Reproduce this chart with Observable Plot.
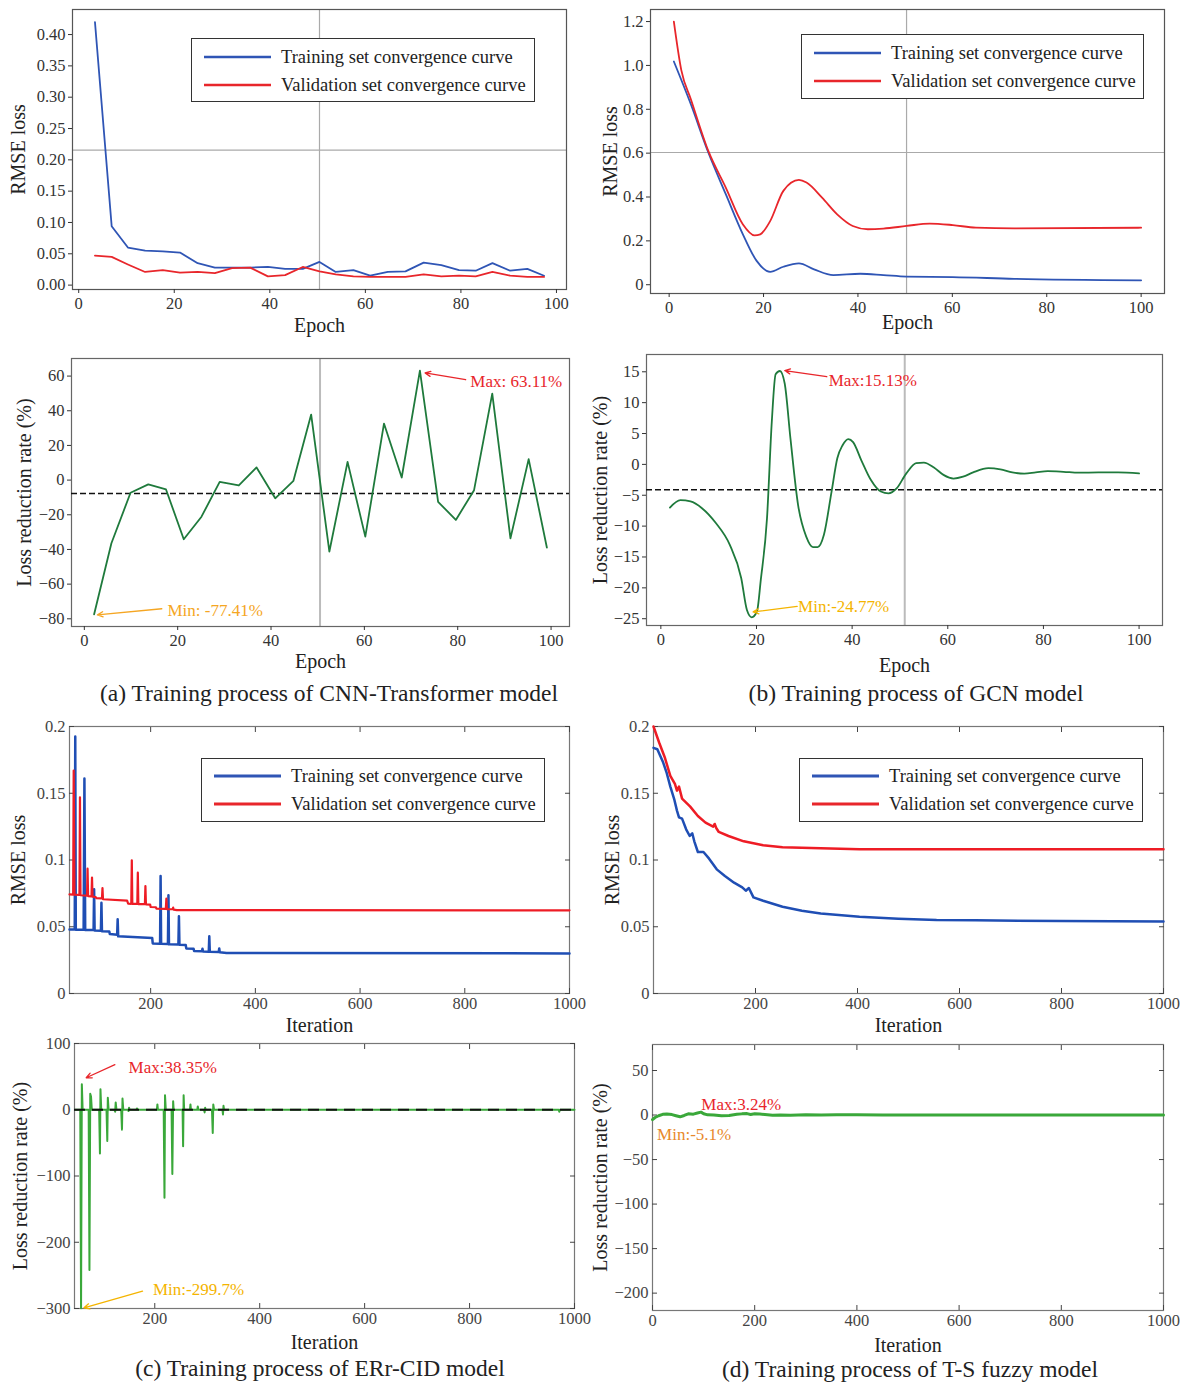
<!DOCTYPE html>
<html>
<head>
<meta charset="utf-8">
<script src="https://cdn.jsdelivr.net/npm/d3@7"></script>
<script src="https://cdn.jsdelivr.net/npm/@observablehq/plot@0.6"></script>
<style>
  body { margin: 0; background: #fff; }
  #fig { position: relative; width: 1194px; height: 1391px; overflow: hidden; background: #fff;
         font-family: "Liberation Serif", "Times New Roman", serif; color: #222; }
  .legend { position: absolute; border: 1.3px solid #333; background: #fff; box-sizing: border-box; }
  .legend .row { position: absolute; left: 0; height: 22px; display: flex; align-items: center; font-size: 18.5px; white-space: nowrap; }
  .legend .row svg { display: block; }
  .caption { position: absolute; font-size: 23.5px; white-space: nowrap; transform: translateX(-50%); line-height: 26px; }
</style>
</head>
<body>
<div id="fig"></div>
<script>
const SERIF = '"Liberation Serif", "Times New Roman", serif';
const BLUE = "#2f55b5", RED = "#e8262b", DARK_GREEN = "#1f7a3c", GREEN = "#3aa83a";
const AMBER = "#f5a623", GOLD = "#f4b400", ORANGE = "#e8892b";

// ---------- (a) CNN-Transformer ----------
const cnnEpoch = [3.4, 6.9, 10.3, 13.9, 17.6, 21.2, 24.9, 28.5, 32.1, 35.9, 39.6, 43.2, 46.9, 50.4,
  53.8, 57.5, 61.0, 64.7, 68.4, 72.2, 75.9, 79.6, 83.1, 86.6, 90.3, 93.9, 97.4];
const cnnTrain = [0.420, 0.094, 0.060, 0.055, 0.054, 0.052, 0.035, 0.028, 0.028, 0.028, 0.029, 0.026, 0.026, 0.037,
  0.021, 0.024, 0.015, 0.021, 0.022, 0.036, 0.032, 0.024, 0.023, 0.035, 0.023, 0.026, 0.015];
const cnnVal = [0.047, 0.045, 0.033, 0.021, 0.024, 0.020, 0.021, 0.019, 0.027, 0.028, 0.014, 0.016, 0.029, 0.022,
  0.017, 0.014, 0.013, 0.013, 0.013, 0.017, 0.014, 0.015, 0.014, 0.021, 0.015, 0.013, 0.013];
const cnnRateEpoch = [2.1, 5.8, 9.9, 13.7, 17.5, 21.3, 25.1, 29.0, 33.1, 36.9, 40.9, 44.8, 48.6, 52.5,
  56.4, 60.2, 64.2, 68.0, 71.9, 75.8, 79.6, 83.5, 87.4, 91.3, 95.2, 99.1];
const cnnRate = [-77.41, -36.4, -7.3, -2.5, -5.4, -34.1, -21.1, -1.0, -3.1, 7.3, -10.5, -0.4, 37.8, -41.2,
  10.5, -32.6, 32.6, 1.5, 63.11, -12.5, -23.0, -5.8, 49.9, -33.6, 12.1, -38.9];
const cnnRateRef = -7.7;

// ---------- (b) GCN ----------
const gcnTrainEpoch = [1, 4.6, 8.3, 12.0, 15.6, 18.5, 21.4, 24.2, 27.5, 30.7, 34.8, 40.5, 45.4, 50.3, 60.1, 73.1, 100];
const gcnTrain = [1.018, 0.823, 0.603, 0.413, 0.231, 0.110, 0.059, 0.082, 0.097, 0.070, 0.044, 0.050, 0.044, 0.037, 0.035, 0.027, 0.020];
const gcnValEpoch = [1, 2.6, 4.6, 8.3, 12.0, 15.6, 18.1, 19.3, 21.4, 24.2, 27.5, 29.1, 32.4, 35.6, 38.9, 42.1,
  45.4, 50.3, 55.2, 60.1, 65.0, 73.1, 100];
const gcnVal = [1.2, 0.976, 0.846, 0.61, 0.443, 0.276, 0.225, 0.23, 0.29, 0.428, 0.478, 0.466, 0.397, 0.321, 0.268, 0.253,
  0.256, 0.268, 0.279, 0.272, 0.26, 0.257, 0.26];
const gcnRateEpoch = [1.9, 4.1, 6.2, 8.6, 11.5, 14.4, 16.8, 18.0, 19.0, 20.1, 20.9, 22.2, 23.2, 24.0, 24.9, 25.9,
  27.1, 28.7, 30.4, 31.8, 32.8, 34.1, 35.7, 36.9, 38.0, 39.2, 40.2, 41.9, 43.9, 46.0, 47.6, 49.3, 51.3, 53.4,
  55.0, 57.1, 59.1, 61.2, 63.2, 65.3, 68.5, 71.0, 73.5, 76.0, 78.4, 80.9, 84.2, 87.4, 91.5, 95.6, 100];
const gcnRate = [-7.0, -5.8, -6.0, -7.1, -9.5, -13.0, -18.4, -23.6, -24.77, -23.8, -18.7, -8.7, 6.9, 14.6, 15.13, 13.1,
  4.2, -6.6, -11.7, -13.4, -13.4, -11.4, -4.4, 1.0, 3.1, 4.1, 3.6, 0.7, -2.5, -4.4, -4.7, -3.9, -1.5, 0.2,
  0.3, -0.5, -1.7, -2.3, -2.0, -1.3, -0.6, -0.8, -1.3, -1.5, -1.3, -1.1, -1.2, -1.35, -1.3, -1.3, -1.45];
const gcnRateRef = -4.1;

// ---------- (c) ERr-CID ----------
const errTrainIter = [45, 55, 56, 57, 72, 73.5, 75, 91, 92, 93, 105, 106, 107, 121, 122, 136, 137, 138, 203, 204,
  218, 219, 220, 233, 234, 235, 253, 254, 255, 267, 268, 282, 283, 298, 299, 300, 311, 312, 313, 330, 331, 332, 345, 1000];
const errTrain = [0.0480, 0.0480, 0.1925, 0.0478, 0.0477, 0.161, 0.0476, 0.0475, 0.078, 0.0472, 0.0470, 0.068, 0.0467,
  0.0465, 0.0445, 0.0440, 0.0556, 0.0428, 0.0415, 0.0375, 0.0372, 0.088, 0.0372, 0.0371, 0.0736, 0.0368, 0.0367, 0.0579,
  0.0365, 0.0363, 0.0338, 0.0335, 0.0318, 0.0316, 0.0335, 0.0314, 0.0313, 0.0429, 0.0312, 0.0311, 0.0337, 0.0309, 0.0304, 0.0300];
const errValIter = [45, 52, 53, 54.5, 64, 65, 66, 78.5, 79.5, 80.5, 87, 88, 89, 95, 96, 107, 108, 109, 155, 157,
  163, 164, 165, 174.5, 175.5, 176.5, 189, 190, 191, 199, 200, 210, 211, 229, 230, 231, 242, 243, 244, 250, 1000];
const errVal = [0.0742, 0.0740, 0.167, 0.0740, 0.0738, 0.147, 0.0736, 0.0733, 0.0935, 0.0730, 0.0728, 0.0868, 0.0725,
  0.0722, 0.0715, 0.0712, 0.079, 0.0706, 0.0695, 0.0673, 0.0672, 0.0998, 0.0672, 0.0671, 0.0905, 0.0670, 0.0669, 0.0805,
  0.0668, 0.0666, 0.0648, 0.0646, 0.0636, 0.0634, 0.071, 0.0632, 0.0631, 0.0643, 0.0628, 0.0624, 0.0623];
const errRateIter = [48, 58, 59.5, 61, 62.5, 64, 74, 75.5, 77, 78.5, 80, 94, 95.5, 96.5, 98, 108, 109.5, 110.5, 112,
  123, 124.5, 125.5, 127, 136, 137.5, 138.5, 140, 149, 150, 151, 152, 165, 166, 167, 204, 205, 206, 217, 218.5, 219.5,
  221, 232, 233.5, 235, 236, 253, 254, 255, 256, 267, 268, 269, 281, 282, 283, 294, 295, 296, 297, 309, 310.5, 311.5,
  313, 329, 330, 331, 332, 970, 971, 972, 1000];
const errRate = [0, 0, -299.7, 38.35, 0, 0, 0, -242, 24, 20, 0, 0, -66, 31, 0, 0, -47, 18, 0,
  0, -3, 11, 0, 0, -30, 17, 0, 0, -2, 3, 0, 0, 2, 0, 0, 8, 0, 0, -133, 22,
  0, 0, -97, 13, 0, 0, -55, 22, 0, 0, 8, 0, 0, 5, 0, 0, -4, 3, 0, 0, -35, 8,
  0, 0, -7, 6, 0, 0, -3, 0, 0];

// ---------- (d) T-S fuzzy ----------
const tsTrainIter = [0, 7.5, 19, 26, 33, 41, 46, 50, 56, 64, 71, 76, 80, 87, 98, 109, 124, 140, 158, 174, 181, 187,
  196, 215, 253, 291, 328, 404, 480, 555, 631, 800, 1000];
const tsTrain = [0.184, 0.183, 0.173, 0.165, 0.155, 0.145, 0.137, 0.132, 0.131, 0.123, 0.118, 0.120, 0.114, 0.106,
  0.106, 0.101, 0.093, 0.088, 0.083, 0.0795, 0.077, 0.079, 0.072, 0.0695, 0.065, 0.062, 0.060, 0.0575, 0.056, 0.055,
  0.0548, 0.0543, 0.054];
const tsValIter = [0, 11, 22, 33, 42, 46, 50, 56, 72, 87, 102, 117, 120, 123, 128, 147, 177, 215, 253, 328, 404, 600, 1000];
const tsVal = [0.2, 0.188, 0.177, 0.163, 0.157, 0.152, 0.155, 0.146, 0.14, 0.133, 0.128, 0.125, 0.127, 0.124, 0.121,
  0.118, 0.114, 0.111, 0.1095, 0.1088, 0.108, 0.108, 0.108];
const tsRateIter = [0, 5, 12, 20, 28, 38, 46, 54, 62, 70, 80, 88, 95, 100, 108, 120, 135, 150, 165, 175, 185, 192,
  200, 210, 220, 235, 250, 270, 300, 330, 360, 400, 450, 500, 600, 700, 800, 900, 1000];
const tsRate = [-5.1, -2.8, -0.8, 0.8, 1.2, 0.5, -0.8, -2.0, -0.5, 1.3, 1.0, 2.2, 3.24, 1.5, 0.2, 0, -0.9, -0.6, 0.8,
  1.3, 1.6, 0.6, 1.4, 1.2, 0.6, -0.3, 0.1, -0.2, 0.3, -0.1, 0.3, 0.2, 0.1, 0.1, 0.1, 0.1, 0.1, 0.1, 0.1];

const LEGEND_TRAIN = "Training set convergence curve";
const LEGEND_VAL = "Validation set convergence curve";

const zip = (xs, ys) => xs.map((x, i) => ({x, y: ys[i]}));
const fig = document.getElementById("fig");
const minus = d3.format("d");
const plain = d => String(d);

function addPlot(box, xDomain, yDomain, marks) {
  const [fx, fy, fw, fh] = box;
  const ml = 90, mr = 40, mt = 20, mb = 60;
  const svg = Plot.plot({
    width: fw + ml + mr, height: fh + mt + mb,
    marginLeft: ml, marginRight: mr, marginTop: mt, marginBottom: mb,
    x: {domain: xDomain}, y: {domain: yDomain},
    style: {background: "transparent", overflow: "visible", fontFamily: SERIF, fontSize: "16px", color: "#222"},
    marks
  });
  Object.assign(svg.style, {position: "absolute", left: (fx - ml) + "px", top: (fy - mt) + "px", maxWidth: "none"});
  fig.appendChild(svg);
}

function titles(xLabel, yLabel, xDy, yDx) {
  return [
    Plot.text([xLabel], {frameAnchor: "bottom", dy: xDy, fontSize: 20, fill: "#222", textAnchor: "middle", lineAnchor: "middle"}),
    Plot.text([yLabel], {frameAnchor: "left", dx: yDx, rotate: -90, fontSize: 20, fill: "#222", textAnchor: "middle", lineAnchor: "middle"})
  ];
}

// seaborn-like axes: outward ticks on left and bottom
function mplAxes({xTicks, yTicks, xFormat = plain, yFormat, xLabel, yLabel, xDy, yDx}) {
  return [
    Plot.axisX({ticks: xTicks, tickFormat: xFormat, tickSize: 4, tickPadding: 4, fontSize: 16.5, label: null, color: "#333"}),
    Plot.axisY({ticks: yTicks, tickFormat: yFormat, tickSize: 4, tickPadding: 3, fontSize: 16.5, label: null, color: "#333"}),
    ...titles(xLabel, yLabel, xDy, yDx)
  ];
}

// boxed axes with inward ticks on all four sides
function boxAxes({xTicks, yTicks, xFormat = plain, yFormat = plain, xLabel, yLabel, xDy, yDx}) {
  return [
    Plot.frame({stroke: "#777", strokeWidth: 1.2}),
    Plot.axisX({anchor: "bottom", ticks: xTicks, tickFormat: xFormat, tickSize: -5, tickPadding: 9, fontSize: 16.5, label: null, color: "#444"}),
    Plot.axisX({anchor: "top", ticks: xTicks, tickFormat: () => "", tickSize: -5, label: null, color: "#444"}),
    Plot.axisY({anchor: "left", ticks: yTicks, tickFormat: yFormat, tickSize: -5, tickPadding: 9, fontSize: 16.5, label: null, color: "#444"}),
    Plot.axisY({anchor: "right", ticks: yTicks, tickFormat: () => "", tickSize: -5, label: null, color: "#444"}),
    ...titles(xLabel, yLabel, xDy, yDx)
  ];
}

function note(x, y, label, color) {
  return Plot.text([{x, y, label}], {x: "x", y: "y", text: "label", fill: color, fontSize: 17, textAnchor: "start"});
}
function pointer(x1, y1, x2, y2, color) {
  return Plot.arrow([{x1, y1, x2, y2}], {x1: "x1", y1: "y1", x2: "x2", y2: "y2", stroke: color, strokeWidth: 1.3, headLength: 7, headAngle: 50});
}

// ---- (a) top: RMSE loss
addPlot([72, 9, 494, 280], [-1.3, 102.1], [-0.007, 0.44], [
  Plot.ruleX([50.4], {stroke: "#aaa", strokeWidth: 1.2}),
  Plot.ruleY([0.2155], {stroke: "#aaa", strokeWidth: 1.2}),
  Plot.frame({stroke: "#555", strokeWidth: 1.2}),
  ...mplAxes({xTicks: [0, 20, 40, 60, 80, 100], yTicks: d3.range(0, 0.401, 0.05), yFormat: d3.format(".2f"),
    xLabel: "Epoch", yLabel: "RMSE loss", xDy: 36, yDx: -54}),
  Plot.line(zip(cnnEpoch, cnnTrain), {x: "x", y: "y", stroke: BLUE, strokeWidth: 1.8}),
  Plot.line(zip(cnnEpoch, cnnVal), {x: "x", y: "y", stroke: RED, strokeWidth: 1.8})
]);

// ---- (a) bottom: loss reduction rate
addPlot([71, 358, 498, 268], [-2.75, 103.95], [-84.44, 70.14], [
  Plot.ruleX([50.5], {stroke: "#bbb", strokeWidth: 2}),
  Plot.frame({stroke: "#666", strokeWidth: 1.2}),
  ...mplAxes({xTicks: [0, 20, 40, 60, 80, 100], yTicks: d3.range(-80, 61, 20), yFormat: minus,
    xLabel: "Epoch", yLabel: "Loss reduction rate (%)", xDy: 35, yDx: -47}),
  Plot.ruleY([cnnRateRef], {stroke: "#111", strokeWidth: 1.5, strokeDasharray: "6,3"}),
  Plot.line(zip(cnnRateEpoch, cnnRate), {x: "x", y: "y", stroke: DARK_GREEN, strokeWidth: 1.8}),
  pointer(81.7, 57.9, 73.0, 61.8, RED),
  note(82.7, 56.7, "Max: 63.11%", RED),
  pointer(16.6, -74.2, 2.8, -77.7, AMBER),
  note(17.8, -75.4, "Min: -77.41%", AMBER)
]);

// ---- (b) top: RMSE loss
addPlot([650, 9, 514, 284], [-3.95, 104.95], [-0.04, 1.255], [
  Plot.ruleX([50.3], {stroke: "#aaa", strokeWidth: 1.2}),
  Plot.ruleY([0.603], {stroke: "#aaa", strokeWidth: 1.2}),
  Plot.frame({stroke: "#555", strokeWidth: 1.2}),
  ...mplAxes({xTicks: [0, 20, 40, 60, 80, 100], yTicks: [0, 0.2, 0.4, 0.6, 0.8, 1.0, 1.2],
    yFormat: d => d === 0 ? "0" : d.toFixed(1), xLabel: "Epoch", yLabel: "RMSE loss", xDy: 29, yDx: -40}),
  Plot.line(zip(gcnTrainEpoch, gcnTrain), {x: "x", y: "y", stroke: BLUE, strokeWidth: 1.8, curve: "monotone-x"}),
  Plot.line(zip(gcnValEpoch, gcnVal), {x: "x", y: "y", stroke: RED, strokeWidth: 1.8, curve: "monotone-x"})
]);

// ---- (b) bottom: loss reduction rate
addPlot([646, 354, 516, 271], [-3, 104.9], [-26.1, 17.8], [
  Plot.ruleX([51.0], {stroke: "#bbb", strokeWidth: 2}),
  Plot.frame({stroke: "#666", strokeWidth: 1.2}),
  ...mplAxes({xTicks: [0, 20, 40, 60, 80, 100], yTicks: d3.range(-25, 16, 5), yFormat: minus,
    xLabel: "Epoch", yLabel: "Loss reduction rate (%)", xDy: 40, yDx: -46}),
  Plot.ruleY([gcnRateRef], {stroke: "#111", strokeWidth: 1.5, strokeDasharray: "6,3"}),
  Plot.line(zip(gcnRateEpoch, gcnRate), {x: "x", y: "y", stroke: DARK_GREEN, strokeWidth: 1.8, curve: "monotone-x"}),
  pointer(34.7, 14.2, 25.9, 15.2, RED),
  note(35.1, 13.5, "Max:15.13%", RED),
  pointer(28.5, -23.0, 19.3, -23.9, GOLD),
  note(28.7, -23.0, "Min:-24.77%", GOLD)
]);

// ---- (c) top: RMSE loss
addPlot([69, 726, 500, 267], [45, 1000], [0, 0.2], [
  ...boxAxes({xTicks: [200, 400, 600, 800, 1000], yTicks: [0, 0.05, 0.1, 0.15, 0.2],
    xLabel: "Iteration", yLabel: "RMSE loss", xDy: 32, yDx: -51}),
  Plot.line(zip(errTrainIter, errTrain), {x: "x", y: "y", stroke: "#1f4eb4", strokeWidth: 2.5}),
  Plot.line(zip(errValIter, errVal), {x: "x", y: "y", stroke: "#ee1c25", strokeWidth: 2.2})
]);

// ---- (c) bottom: loss reduction rate
addPlot([74, 1043, 500, 265], [47, 1000], [-300, 100], [
  ...boxAxes({xTicks: [200, 400, 600, 800, 1000], yTicks: [-300, -200, -100, 0, 100], yFormat: minus,
    xLabel: "Iteration", yLabel: "Loss reduction rate (%)", xDy: 34, yDx: -54}),
  Plot.line(zip(errRateIter, errRate), {x: "x", y: "y", stroke: GREEN, strokeWidth: 2}),
  Plot.ruleY([0], {stroke: "#111", strokeWidth: 2, strokeDasharray: "11,7"}),
  pointer(124, 68, 69.3, 48.3, RED),
  note(150, 63.4, "Max:38.35%", RED),
  pointer(176.7, -273.7, 65, -299, GOLD),
  note(196.5, -272, "Min:-299.7%", GOLD)
]);

// ---- (d) top: RMSE loss
addPlot([653, 726, 510, 267], [0, 1000], [0, 0.2], [
  ...boxAxes({xTicks: [200, 400, 600, 800, 1000], yTicks: [0, 0.05, 0.1, 0.15, 0.2],
    xLabel: "Iteration", yLabel: "RMSE loss", xDy: 32, yDx: -41}),
  Plot.line(zip(tsTrainIter, tsTrain), {x: "x", y: "y", stroke: "#1f4eb4", strokeWidth: 2.5}),
  Plot.line(zip(tsValIter, tsVal), {x: "x", y: "y", stroke: "#ee1c25", strokeWidth: 2.5})
]);

// ---- (d) bottom: loss reduction rate
addPlot([652, 1044, 511, 266], [0, 1000], [-219.5, 79.2], [
  ...boxAxes({xTicks: [0, 200, 400, 600, 800, 1000], yTicks: [-200, -150, -100, -50, 0, 50], yFormat: minus,
    xLabel: "Iteration", yLabel: "Loss reduction rate (%)", xDy: 35, yDx: -52}),
  Plot.line(zip(tsRateIter, tsRate), {x: "x", y: "y", stroke: GREEN, strokeWidth: 3}),
  note(95.5, 11.8, "Max:3.24%", RED),
  note(9, -21.9, "Min:-5.1%", ORANGE)
]);

// ---- legends
function legend(left, top, width, height, rowTops, swatchX, swatchW, textX, strokeWidth) {
  const div = document.createElement("div");
  div.className = "legend";
  Object.assign(div.style, {left: left + "px", top: top + "px", width: width + "px", height: height + "px"});
  [[BLUE, LEGEND_TRAIN], [RED, LEGEND_VAL]].forEach(([c, t], i) => {
    const row = document.createElement("div");
    row.className = "row";
    row.style.top = (rowTops[i] - 11) + "px";
    row.style.left = swatchX + "px";
    row.innerHTML = `<svg width="${swatchW}" height="22"><line x1="0" x2="${swatchW}" y1="11" y2="11" stroke="${c}" stroke-width="${strokeWidth}"/></svg>` +
      `<span style="margin-left:${textX - swatchX - swatchW}px">${t}</span>`;
    div.appendChild(row);
  });
  fig.appendChild(div);
}
legend(191, 38, 344, 64, [18, 46], 12, 67, 89, 2.4);
legend(801, 34, 343, 65, [18, 46], 12, 67, 89, 2.6);
legend(201, 758, 344, 64, [17, 45], 12, 67, 89, 2.8);
legend(799, 758, 344, 64, [17, 45], 12, 67, 89, 2.8);

// ---- captions
const captions = [
  ["(a) Training process of CNN-Transformer model", 329, 680],
  ["(b) Training process of GCN model", 916, 680],
  ["(c) Training process of ERr-CID model", 320, 1355],
  ["(d) Training process of T-S fuzzy model", 910, 1356]
];
for (const [t, cx, top] of captions) {
  const d = document.createElement("div");
  d.className = "caption";
  d.textContent = t;
  Object.assign(d.style, {left: cx + "px", top: top + "px"});
  fig.appendChild(d);
}
</script>
</body>
</html>
